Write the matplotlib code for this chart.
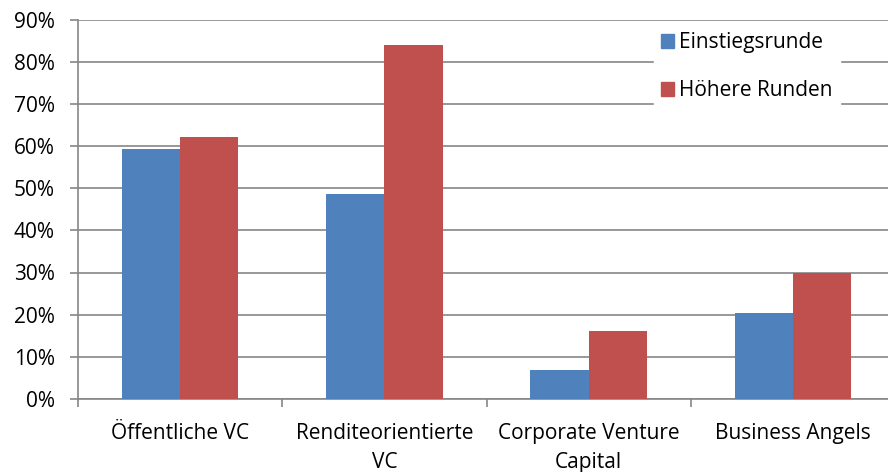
import matplotlib
matplotlib.use("Agg")
import matplotlib.pyplot as plt
import numpy as np
from matplotlib.patches import Patch

categories = ["Öffentliche VC", "Renditeorientierte\nVC", "Corporate Venture\nCapital", "Business Angels"]
einstieg = [59.2, 48.7, 6.9, 20.4]
hoehere = [62.1, 84.0, 16.1, 30.0]
yticks = [0, 10, 20, 30, 40, 50, 60, 70, 80, 90]

plt.rcParams['font.family'] = ['Open Sans', 'DejaVu Sans']
blue = '#4F81BD'
red = '#C0504D'
gray = '#868686'
fs = 15

fig = plt.figure(figsize=(8.88, 4.72), dpi=100)
W, H = 888, 472
x0, x1 = 78, 895
y0, y1 = 399, 19.5
ax = fig.add_axes([x0 / W, 1 - y0 / H, (x1 - x0) / W, (y0 - y1) / H])

x = np.arange(len(categories))
w = 0.285
ax.bar(x - w / 2, einstieg, w, color=blue, label='Einstiegsrunde', zorder=3)
ax.bar(x + w / 2, hoehere, w, color=red, label='Höhere Runden', zorder=3)

ax.set_xlim(-0.5, len(categories) - 0.5)
ax.set_ylim(0, 90)
ax.set_yticks(yticks)
ax.set_yticklabels([f"{v}%" for v in yticks], fontsize=fs)
ax.yaxis.grid(True, color=gray, linewidth=1.2, zorder=0)
ax.set_axisbelow(True)

ax.set_xticks(np.arange(len(categories) + 1) - 0.5)
ax.set_xticklabels([])
ax.set_xticks(x, minor=True)
ax.set_xticklabels(categories, minor=True, fontsize=fs, linespacing=1.5)
ax.tick_params(axis='x', which='minor', length=0, pad=17)
ax.tick_params(axis='x', which='major', length=5.8, width=1.2, color=gray)
ax.tick_params(axis='y', length=5.8, width=1.2, color=gray, pad=11)

for s in ['top', 'right']:
    ax.spines[s].set_visible(False)
for s in ['left', 'bottom']:
    ax.spines[s].set_color(gray)
    ax.spines[s].set_linewidth(1.2)

handles = [Patch(color=blue), Patch(color=red)]
leg = ax.legend(handles, ['Einstiegsrunde', 'Höhere Runden'], loc='upper left',
                bbox_to_anchor=((654 - x0) / (x1 - x0), 1 - (25 - y1) / (y0 - y1)),
                frameon=True, fontsize=fs, handlelength=0.62, handleheight=0.62,
                handletextpad=0.25, labelspacing=1.3, borderpad=0.35, borderaxespad=0)
leg.get_frame().set_facecolor('white')
leg.get_frame().set_edgecolor('white')
leg.get_frame().set_alpha(1)
leg.get_frame().set_boxstyle('square', pad=0)

fig.savefig('out.png', dpi=100)
